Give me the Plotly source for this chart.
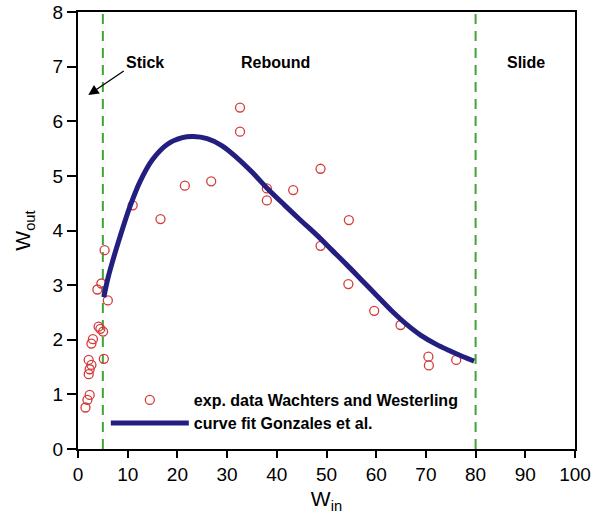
import plotly.graph_objects as go

# experimental data (Wachters and Westerling)
exp_win = [1.5, 1.9, 2.35, 2.15, 2.35, 2.7, 2.15, 5.2, 2.7, 3.0, 5.05, 4.15, 4.5,
           6.0, 3.9, 4.7, 5.35, 11.0, 16.6, 21.5, 26.8, 32.6, 32.6, 38.0, 38.0,
           43.3, 48.8, 48.8, 54.5, 54.4, 59.6, 64.9, 70.5, 70.6, 76.1]
exp_wout = [0.76, 0.90, 0.99, 1.37, 1.46, 1.54, 1.63, 1.65, 1.93, 2.01, 2.15, 2.24, 2.20,
            2.72, 2.92, 3.03, 3.64, 4.46, 4.21, 4.82, 4.90, 5.81, 6.25, 4.77, 4.55,
            4.74, 5.13, 3.72, 4.19, 3.02, 2.53, 2.27, 1.69, 1.53, 1.63]

# curve fit (Gonzales et al.)
fit_win = [5.2, 6.0, 7.0, 8.5, 10.5, 12.5, 15.0, 18.0, 21.0, 23.2, 26.0, 29.0, 32.0,
           35.0, 38.0, 41.5, 45.0, 48.0, 51.0, 54.0, 57.0, 60.0, 63.0, 66.0, 69.0,
           72.0, 75.0, 77.5, 79.7]
fit_wout = [2.78, 3.12, 3.45, 3.90, 4.45, 4.90, 5.30, 5.58, 5.70, 5.72, 5.68, 5.55, 5.33,
            5.07, 4.78, 4.47, 4.17, 3.92, 3.65, 3.38, 3.10, 2.82, 2.54, 2.29, 2.08,
            1.92, 1.79, 1.69, 1.61]

regime_bounds = [5, 80]
regime_labels = ["Stick", "Rebound", "Slide"]
regime_label_x = [13.5, 39.8, 90.1]
regime_label_y = 7.07

x_ticks = [0, 10, 20, 30, 40, 50, 60, 70, 80, 90, 100]
y_ticks = [0, 1, 2, 3, 4, 5, 6, 7, 8]

FONT = "Liberation Sans, Arial, Helvetica, sans-serif"
GREEN = "#3fa535"
RED = "#d43c3c"
NAVY = "#221f80"

fig = go.Figure()

fig.add_trace(go.Scatter(
    x=exp_win, y=exp_wout, mode="markers",
    name="exp. data Wachters and Westerling", legend="legend",
    marker=dict(symbol="circle-open", size=9, color=RED, line=dict(width=1.3, color=RED)),
    cliponaxis=False,
))
fig.add_trace(go.Scatter(
    x=fit_win, y=fit_wout, mode="lines",
    name="curve fit Gonzales et al.", legend="legend2",
    line=dict(color=NAVY, width=5, shape="spline", smoothing=1.0),
))

for xb in regime_bounds:
    fig.add_shape(type="line", x0=xb, x1=xb, y0=0, y1=8, xref="x", yref="y",
                  line=dict(color=GREEN, width=2, dash="10px,7px"), layer="below")

for lab, lx in zip(regime_labels, regime_label_x):
    fig.add_annotation(x=lx, y=regime_label_y, text="<b>%s</b>" % lab, showarrow=False,
                       font=dict(family=FONT, size=16, color="black"))

# arrow from "Stick" label toward the stick regime
fig.add_annotation(x=2.07, y=6.48, ax=9.5, ay=6.94, axref="x", ayref="y",
                   text="", showarrow=True, arrowhead=2, arrowsize=1.6,
                   arrowwidth=1.3, arrowcolor="black")

axis_common = dict(
    showgrid=False, zeroline=False, showline=True, linecolor="black", linewidth=2,
    mirror=True, ticks="outside", tickcolor="black", tickwidth=2, automargin=False,
    tickfont=dict(family=FONT, size=19, color="black"),
)

fig.update_xaxes(range=[0, 100], tickvals=x_ticks, ticklen=7,
                 title=dict(text="W<sub>in</sub>", font=dict(family=FONT, size=21, color="black"), standoff=8),
                 **axis_common)
fig.update_yaxes(range=[0, 8], tickvals=y_ticks, ticklen=9,
                 title=dict(text="W<sub>out</sub>", font=dict(family=FONT, size=21, color="black"), standoff=16),
                 **axis_common)

legend_font = dict(family=FONT, size=16, color="black", weight="bold")
fig.update_layout(
    width=604, height=524,
    margin=dict(l=78, r=29, t=12, b=75),
    paper_bgcolor="white", plot_bgcolor="white",
    font=dict(family=FONT, color="black"),
    legend=dict(x=0.056, y=0.151, xanchor="left", yanchor="top", itemwidth=78,
                bgcolor="rgba(0,0,0,0)", borderwidth=0, font=legend_font),
    legend2=dict(x=0.056, y=0.098, xanchor="left", yanchor="top", itemwidth=78,
                 bgcolor="rgba(0,0,0,0)", borderwidth=0, font=legend_font),
    showlegend=True,
)

fig.write_html("out.html", config={"displayModeBar": False},
               post_script="document.body.style.margin='0';")
